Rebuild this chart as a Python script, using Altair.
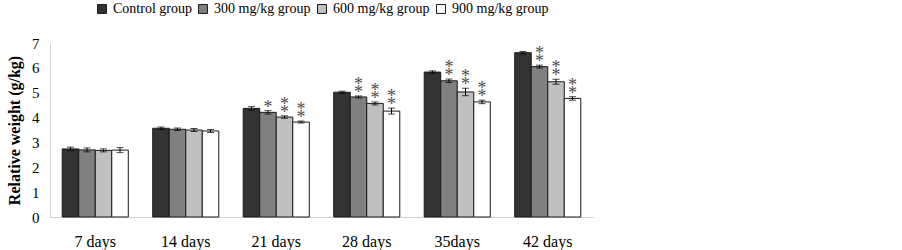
import altair as alt
import pandas as pd

days = ["7 days", "14 days", "21 days", "28 days", "35days", "42 days"]
groups = ["Control group", "300 mg/kg group", "600 mg/kg group", "900 mg/kg group"]
colors = ["#333333", "#808080", "#c0c0c0", "#ffffff"]

control = [2.74, 3.57, 4.37, 5.02, 5.83, 6.61]
g300 = [2.70, 3.53, 4.21, 4.83, 5.48, 6.05]
g600 = [2.68, 3.50, 4.02, 4.57, 5.03, 5.44]
g900 = [2.69, 3.46, 3.82, 4.26, 4.63, 4.77]

err_control = [0.07, 0.05, 0.07, 0.04, 0.05, 0.05]
err_300 = [0.08, 0.05, 0.07, 0.04, 0.07, 0.06]
err_600 = [0.06, 0.06, 0.05, 0.06, 0.15, 0.10]
err_900 = [0.10, 0.06, 0.04, 0.12, 0.07, 0.07]

# number of significance asterisks per bar
stars_control = [0, 0, 0, 0, 0, 0]
stars_300 = [0, 0, 1, 2, 2, 2]
stars_600 = [0, 0, 2, 2, 2, 2]
stars_900 = [0, 0, 2, 2, 2, 2]

rows = []
for g, vals, errs, st in zip(
    groups,
    [control, g300, g600, g900],
    [err_control, err_300, err_600, err_900],
    [stars_control, stars_300, stars_600, stars_900],
):
    for d, v, e, s in zip(days, vals, errs, st):
        rows.append({"day": d, "group": g, "value": v, "lo": v - e, "hi": v + e, "stars": s})
df = pd.DataFrame(rows)

FONT = "Liberation Serif"

x = alt.X(
    "day:N",
    sort=days,
    scale=alt.Scale(paddingInner=0.27, paddingOuter=0.135),
    axis=alt.Axis(
        title=None, labelAngle=0, labelFont=FONT, labelFontSize=16, labelColor="black",
        labelPadding=16, tickSize=0, domainColor="#d0d0d0",
    ),
)
xo = alt.XOffset("group:N", sort=groups, scale=alt.Scale(paddingInner=0, paddingOuter=0))
yscale = alt.Scale(domain=[0, 7], nice=False)
yaxis = alt.Axis(
    title="Relative weight (g/kg)", titleFont=FONT, titleFontSize=16,
    titleFontWeight="bold", titleColor="black", titlePadding=9,
    labelFont=FONT, labelFontSize=15, labelColor="black", labelPadding=11,
    values=[0, 1, 2, 3, 4, 5, 6, 7], labelOverlap=False, grid=False, tickSize=0,
    domainColor="#d0d0d0",
)

base = alt.Chart(df)

bars = base.mark_bar(stroke="#1a1a1a", strokeWidth=1).encode(
    x=x,
    xOffset=xo,
    y=alt.Y("value:Q", scale=yscale, axis=yaxis),
    fill=alt.Fill(
        "group:N",
        sort=groups,
        scale=alt.Scale(domain=groups, range=colors),
        legend=alt.Legend(
            title=None, orient="none", legendX=45, legendY=-41, direction="horizontal",
            columns=4, symbolType="square", symbolSize=80, symbolStrokeColor="#1a1a1a",
            symbolStrokeWidth=1, labelFont=FONT, labelFontSize=14, labelColor="black",
            symbolOffset=0, labelOffset=4, columnPadding=4,
        ),
    ),
)

rule = base.mark_rule(color="black", strokeWidth=1).encode(
    x=x, xOffset=xo, y=alt.Y("lo:Q", scale=yscale, axis=yaxis), y2="hi:Q"
)
cap_hi = base.mark_tick(color="black", thickness=1, size=7).encode(
    x=x, xOffset=xo, y=alt.Y("hi:Q", scale=yscale, axis=yaxis)
)
cap_lo = base.mark_tick(color="black", thickness=1, size=7).encode(
    x=x, xOffset=xo, y=alt.Y("lo:Q", scale=yscale, axis=yaxis)
)

star1 = base.transform_filter("datum.stars >= 1").mark_text(
    text="*", font=FONT, fontSize=18, color="#4d4d4d", baseline="middle", dy=-3
).encode(x=x, xOffset=xo, y=alt.Y("hi:Q", scale=yscale, axis=yaxis))
star2 = base.transform_filter("datum.stars >= 2").mark_text(
    text="*", font=FONT, fontSize=18, color="#4d4d4d", baseline="middle", dy=-11
).encode(x=x, xOffset=xo, y=alt.Y("hi:Q", scale=yscale, axis=yaxis))

chart = (
    alt.layer(bars, rule, cap_hi, cap_lo, star1, star2)
    .properties(
        width=543,
        height=174,
        padding={"left": 50, "top": 43, "right": 309, "bottom": 33},
        autosize=alt.AutoSizeParams(type="none"),
        background="white",
    )
    .configure_view(stroke=None)
)

chart.save("out.html", embed_options={"renderer": "svg", "actions": False})
